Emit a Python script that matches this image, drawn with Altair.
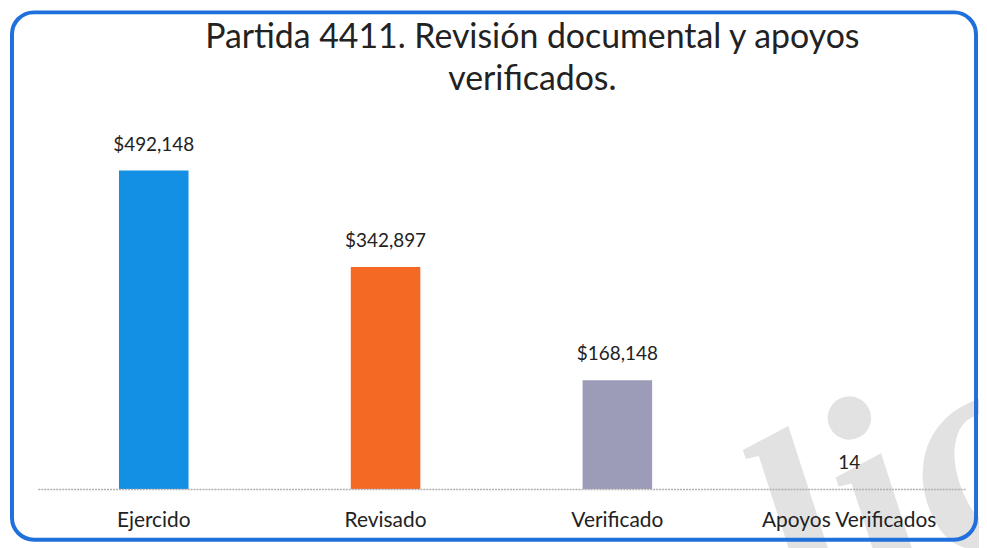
import altair as alt
import pandas as pd

categories = ["Ejercido", "Revisado", "Verificado", "Apoyos Verificados"]
values = [492148, 342897, 168148, 14]
labels = ["$492,148", "$342,897", "$168,148", "14"]
colors = ["#138FE3", "#F46A25", "#9C9CB8", "#9C9CB8"]
title_lines = ["Partida 4411. Revisión documental y apoyos", "verificados."]

df = pd.DataFrame({"cat": categories, "val": values, "label": labels, "color": colors})

FONT = "Lato"
W, H = 932, 360

x = alt.X("cat:N", sort=categories, title=None,
          scale=alt.Scale(paddingInner=0.7, paddingOuter=0.35),
          axis=alt.Axis(labelAngle=0, labelFont=FONT, labelFontSize=21, labelColor="#222222",
                        labelPadding=21, ticks=False, domainColor="#B0B0B0",
                        domainDash=[2, 1], domainWidth=1.5, zindex=1))
y = alt.Y("val:Q", title=None, scale=alt.Scale(domain=[0, 553666], nice=False), axis=None)

watermark = alt.Chart(df.head(1)).mark_text(
    text="lic", font="Liberation Serif", fontStyle="italic", fontWeight="bold",
    fontSize=290, angle=332, align="left", baseline="alphabetic",
    color="#E2E2E2").encode(x=alt.value(778), y=alt.value(512))

bars = alt.Chart(df).mark_bar().encode(x=x, y=y, color=alt.Color("color:N", scale=None))
text = alt.Chart(df).mark_text(dy=-16, baseline="bottom", font=FONT, fontSize=19,
                               color="#222222").encode(x=x, y=y, text="label:N")

frame = alt.Chart(df.head(1)).mark_rect(fill=None, stroke="#1F70DD", strokeWidth=4,
                                        cornerRadius=22).encode(
    x=alt.value(-26), x2=alt.value(943), y=alt.value(-119), y2=alt.value(411))

chart = alt.layer(watermark, frame, bars, text).properties(
    width=W, height=H,
    title=alt.TitleParams(title_lines,
                          font=FONT, fontSize=34, fontWeight="normal", color="#222222",
                          anchor="middle", dx=31, offset=-87, lineHeight=42,
                          frame="group"),
    autosize=alt.AutoSizeParams(type="none"),
    padding={"left": 30, "top": 122, "right": 14, "bottom": 58},
).configure_view(stroke=None)

chart.save("out.html", embed_options={"renderer": "svg", "actions": False})
